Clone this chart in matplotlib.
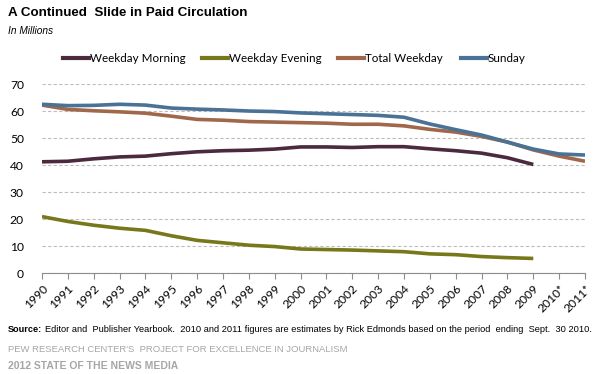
import matplotlib
matplotlib.use("Agg")
import matplotlib.pyplot as plt
from matplotlib.lines import Line2D

years = ["1990","1991","1992","1993","1994","1995","1996","1997","1998","1999","2000",
         "2001","2002","2003","2004","2005","2006","2007","2008","2009","2010*","2011*"]
weekday_morning = [41.3,41.5,42.4,43.1,43.4,44.3,45.0,45.4,45.6,46.0,46.8,46.8,46.6,46.9,46.9,46.1,45.4,44.5,42.8,40.3]
weekday_evening = [21.0,19.2,17.8,16.7,15.9,13.9,12.2,11.3,10.4,9.9,9.0,8.8,8.6,8.3,8.0,7.2,6.9,6.2,5.8,5.5]
total_weekday = [62.3,60.7,60.2,59.8,59.3,58.2,57.0,56.7,56.2,56.0,55.8,55.6,55.2,55.2,54.6,53.3,52.3,50.7,48.6,45.7,43.4,41.5]
sunday = [62.6,62.1,62.2,62.6,62.3,61.2,60.8,60.5,60.1,59.9,59.4,59.1,58.8,58.5,57.8,55.3,53.2,51.2,48.6,46.0,44.2,43.8]
yticks = [0,10,20,30,40,50,60,70]

names = ["Weekday Morning","Weekday Evening","Total Weekday","Sunday"]
colors = ["#4B2A3D","#77781A","#A0674A","#4A7296"]
series = [weekday_morning, weekday_evening, total_weekday, sunday]

FONT = "Lato"
NARROW = ["Liberation Sans Narrow","Liberation Sans"]

W, H = 601, 374
fig = plt.figure(figsize=(W/100, H/100), dpi=100)
ax = fig.add_axes([42/W, 1-273.3/H, (585-42)/W, (273.3-84.3)/H])

for s, c in zip(series, colors):
    ax.plot(range(len(s)), s, color=c, lw=2.6, solid_capstyle="butt", solid_joinstyle="round")

ax.set_xlim(0, len(years)-1)
ax.set_ylim(0, 70)
ax.set_yticks(yticks)
ax.set_yticklabels([str(v) for v in yticks], fontsize=8.7, family=FONT)
ax.set_xticks(range(len(years)))
ax.set_xticklabels(years, rotation=45, ha="right", rotation_mode="anchor", fontsize=8.7, family=FONT)
ax.yaxis.grid(True, ls=(0,(3,2)), color="#BDBDBD", lw=0.8)
ax.set_axisbelow(True)
for sp in ["top","right","left"]:
    ax.spines[sp].set_visible(False)
ax.spines["bottom"].set_color("#8C8C8C")
ax.tick_params(axis="y", length=0, pad=13)
ax.tick_params(axis="x", length=4, color="#8C8C8C", direction="out", pad=3)

# legend
leg_x = [63, 202, 338, 461]
for x, n, c in zip(leg_x, names, colors):
    fig.add_artist(Line2D([x/W, (x+26)/W], [1-58/H, 1-58/H], color=c, lw=3))
    fig.text((x+27)/W, 1-58/H, n, fontsize=8.4, va="center", ha="left", family=FONT)

fig.text(8/W, 1-13/H, "A Continued  Slide in Paid Circulation", fontsize=9.6, weight="bold",
         family="Liberation Sans", va="center", ha="left")
fig.text(8/W, 1-31/H, "In Millions", fontsize=7.3, style="italic", family="Liberation Sans",
         va="center", ha="left")

r = fig.canvas.get_renderer()
t1 = fig.text(8/W, 1-329/H, "Source:", fontsize=6.6, weight="bold", family=NARROW, va="center", ha="left")
bb = t1.get_window_extent(renderer=r)
fig.text((bb.x1 + 3)/W, 1-329/H,
         "Editor and  Publisher Yearbook.  2010 and 2011 figures are estimates by Rick Edmonds based on the period  ending  Sept.  30 2010.",
         fontsize=6.7, family=NARROW, va="center", ha="left")
fig.text(8/W, 1-350/H, "PEW RESEARCH CENTER'S  PROJECT FOR EXCELLENCE IN JOURNALISM",
         fontsize=6.8, color="#A6A6A6", family=NARROW, va="center", ha="left")
fig.text(8/W, 1-366/H, "2012 STATE OF THE NEWS MEDIA",
         fontsize=7.5, color="#A6A6A6", weight="bold", family=NARROW, va="center", ha="left")

fig.savefig("out.png", dpi=100)
